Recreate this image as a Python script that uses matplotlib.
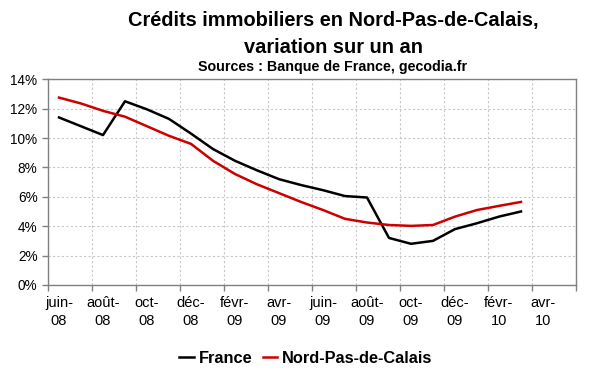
import matplotlib
matplotlib.use("Agg")
import matplotlib.pyplot as plt
import numpy as np

plt.rcParams['font.family'] = ['Liberation Sans', 'DejaVu Sans']

months = ["juin-08", "juil-08", "août-08", "sept-08", "oct-08", "nov-08", "déc-08",
          "janv-09", "févr-09", "mars-09", "avr-09", "mai-09", "juin-09", "juil-09",
          "août-09", "sept-09", "oct-09", "nov-09", "déc-09", "janv-10", "févr-10", "mars-10"]
france = [11.4, 10.8, 10.2, 12.5, 11.95, 11.3, 10.3, 9.25, 8.45, 7.8, 7.2, 6.8,
          6.45, 6.05, 5.95, 3.2, 2.8, 3.0, 3.8, 4.2, 4.65, 5.0]
npdc = [12.75, 12.35, 11.85, 11.45, 10.8, 10.15, 9.6, 8.45, 7.55, 6.85, 6.25, 5.65,
        5.1, 4.5, 4.25, 4.08, 4.02, 4.08, 4.65, 5.1, 5.38, 5.65]
tick_labels = ["juin-\n08", "août-\n08", "oct-\n08", "déc-\n08", "févr-\n09", "avr-\n09",
               "juin-\n09", "août-\n09", "oct-\n09", "déc-\n09", "févr-\n10", "avr-\n10"]

fig = plt.figure(figsize=(6, 3.72), dpi=100)
ax = fig.add_axes([0.08, 0.234, 0.88, 0.553])

x = np.arange(len(months))
ax.plot(x, france, color='black', lw=1.8, label='France')
ax.plot(x, npdc, color='#cc0000', lw=1.8, label='Nord-Pas-de-Calais')

ax.set_xlim(-0.5, 23.5)
ax.set_ylim(0, 14)
ax.set_yticks(np.arange(0, 15, 2))
ax.set_yticklabels(['%d%%' % v for v in range(0, 15, 2)], fontsize=9.8)
ax.set_xticks(np.arange(-0.5, 24, 2))
ax.set_xticklabels([])
ax.set_xticks(np.arange(0, 23, 2), minor=True)
ax.set_xticklabels(tick_labels, minor=True, fontsize=10.5, linespacing=1.35)
ax.tick_params(axis='x', which='minor', length=0, pad=8)
ax.tick_params(axis='both', which='major', length=4, color='#808080', width=1)

ax.grid(True, which='major', linestyle=(0, (2, 2)), color='#c8c8c8', lw=0.8)
for s in ax.spines.values():
    s.set_color('#808080')
    s.set_linewidth(1)

# titles are centred a bit right of the figure centre, as in the original
tx = 0.555
fig.text(tx, 0.945, "Crédits immobiliers en Nord-Pas-de-Calais,", ha='center', va='center',
         fontsize=14.4, fontweight='bold')
fig.text(tx, 0.873, "variation sur un an", ha='center', va='center',
         fontsize=14.4, fontweight='bold')
fig.text(tx, 0.82, "Sources : Banque de France, gecodia.fr", ha='center', va='center',
         fontsize=10.3, fontweight='bold')

leg = fig.legend(loc='center', bbox_to_anchor=(0.51, 0.036), ncol=2, frameon=False,
                 prop={'weight': 'bold', 'size': 11.8}, handlelength=0.9,
                 handletextpad=0.3, columnspacing=0.6)

fig.savefig('out.png', dpi=100)
